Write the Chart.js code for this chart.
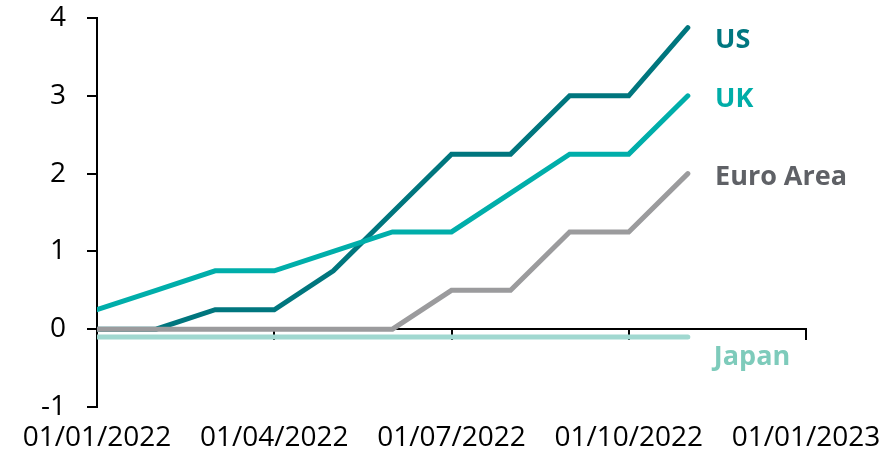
<!DOCTYPE html>
<html>
<head>
<meta charset="utf-8">
<script src="https://cdn.jsdelivr.net/npm/chart.js@4/dist/chart.umd.min.js"></script>
<style>
  html, body { margin: 0; padding: 0; background: #ffffff; }
  #wrap { width: 889px; height: 455px; position: relative; }
</style>
</head>
<body>
<div id="wrap"><canvas id="c"></canvas></div>
<script>
// Policy rates, monthly observations from Jan 2022 (month index 0) to Nov 2022 (10)
const months = [0, 1, 2, 3, 4, 5, 6, 7, 8, 9, 10];
const usRate    = [0, 0, 0.25, 0.25, 0.75, 1.5, 2.25, 2.25, 3, 3, 3.875];
const ukRate    = [0.25, 0.5, 0.75, 0.75, 1, 1.25, 1.25, 1.75, 2.25, 2.25, 3];
const euroRate  = [0, 0, 0, 0, 0, 0, 0.5, 0.5, 1.25, 1.25, 2];
const japanRate = [-0.1, -0.1, -0.1, -0.1, -0.1, -0.1, -0.1, -0.1, -0.1, -0.1, -0.1];

// Axis tick labels (quarter starts, month index 0, 3, 6, 9, 12)
const xTickLabels = { 0: '01/01/2022', 3: '01/04/2022', 6: '01/07/2022', 9: '01/10/2022', 12: '01/01/2023' };
const seriesNames = ['US', 'UK', 'Euro Area', 'Japan'];

const toPoints = (vals) => vals.map((v, i) => ({ x: months[i], y: v }));

// Series name labels placed to the right of the lines (baseline anchored in data units)
const endLabels = {
  id: 'endLabels',
  afterDatasetsDraw(chart, args, opts) {
    const { ctx, scales: { x, y } } = chart;
    ctx.save();
    ctx.font = opts.font;
    ctx.textAlign = 'left';
    ctx.textBaseline = 'alphabetic';
    opts.items.forEach(it => {
      ctx.fillStyle = it.color;
      ctx.fillText(it.text, x.getPixelForValue(it.x), y.getPixelForValue(it.y));
    });
    ctx.restore();
  }
};

const tickFont = { family: 'Open Sans', size: 28 };

new Chart(document.getElementById('c'), {
  type: 'line',
  data: {
    datasets: [
      { label: seriesNames[0], data: toPoints(usRate),    borderColor: '#00767e', order: 4 },
      { label: seriesNames[1], data: toPoints(ukRate),    borderColor: '#00aeaa', order: 1 },
      { label: seriesNames[2], data: toPoints(euroRate),  borderColor: '#9b9b9d', order: 2 },
      { label: seriesNames[3], data: toPoints(japanRate), borderColor: '#a0d8d0', order: 3 }
    ]
  },
  options: {
    responsive: true,
    maintainAspectRatio: false,
    animation: false,
    layout: { padding: { left: 0, right: 0, top: 18, bottom: 0 } },
    elements: {
      line: { borderWidth: 5, tension: 0, borderCapStyle: 'round', borderJoinStyle: 'miter', fill: false },
      point: { radius: 0, hoverRadius: 0 }
    },
    plugins: {
      legend: { display: false },
      tooltip: { enabled: false },
      endLabels: {
        font: 'bold 27px "Open Sans"',
        items: [
          { text: seriesNames[0], x: 10.46, y: 3.62, color: '#007780' },
          { text: seriesNames[1], x: 10.46, y: 2.86, color: '#00ada8' },
          { text: seriesNames[2], x: 10.46, y: 1.85, color: '#5f6166' },
          { text: seriesNames[3], x: 10.44, y: -0.46, color: '#7ecbbb' }
        ]
      }
    },
    scales: {
      x: {
        type: 'linear',
        position: 'bottom',
        min: 0, max: 12,
        grid: { display: false },
        border: { display: false },
        afterFit: (s) => { s.height = 48; s.paddingRight = 83; },
        ticks: {
          stepSize: 3,
          maxRotation: 0,
          autoSkip: false,
          padding: 6,
          color: '#000000',
          font: tickFont,
          callback: (v) => xTickLabels[v] ?? ''
        }
      },
      xZero: {
        type: 'linear',
        axis: 'x',
        position: { y: 0 },
        min: 0, max: 12,
        afterFit: (s) => { s.height = 0; s.paddingTop = 0; s.paddingBottom = 0; },
        grid: { drawOnChartArea: false, drawTicks: true, tickLength: 10, color: '#000000', lineWidth: 2 },
        border: { display: true, color: '#000000', width: 2 },
        ticks: { stepSize: 3, display: false }
      },
      y: {
        min: -1, max: 4,
        afterFit: (s) => { s.width = 97; s.paddingTop = 0; s.paddingBottom = 0; },
        grid: { drawOnChartArea: false, drawTicks: true, tickLength: 10, color: '#000000', lineWidth: 2 },
        border: { display: true, color: '#000000', width: 2 },
        ticks: { stepSize: 1, padding: 21, color: '#000000', font: tickFont }
      }
    }
  },
  plugins: [endLabels]
});
</script>
</body>
</html>
